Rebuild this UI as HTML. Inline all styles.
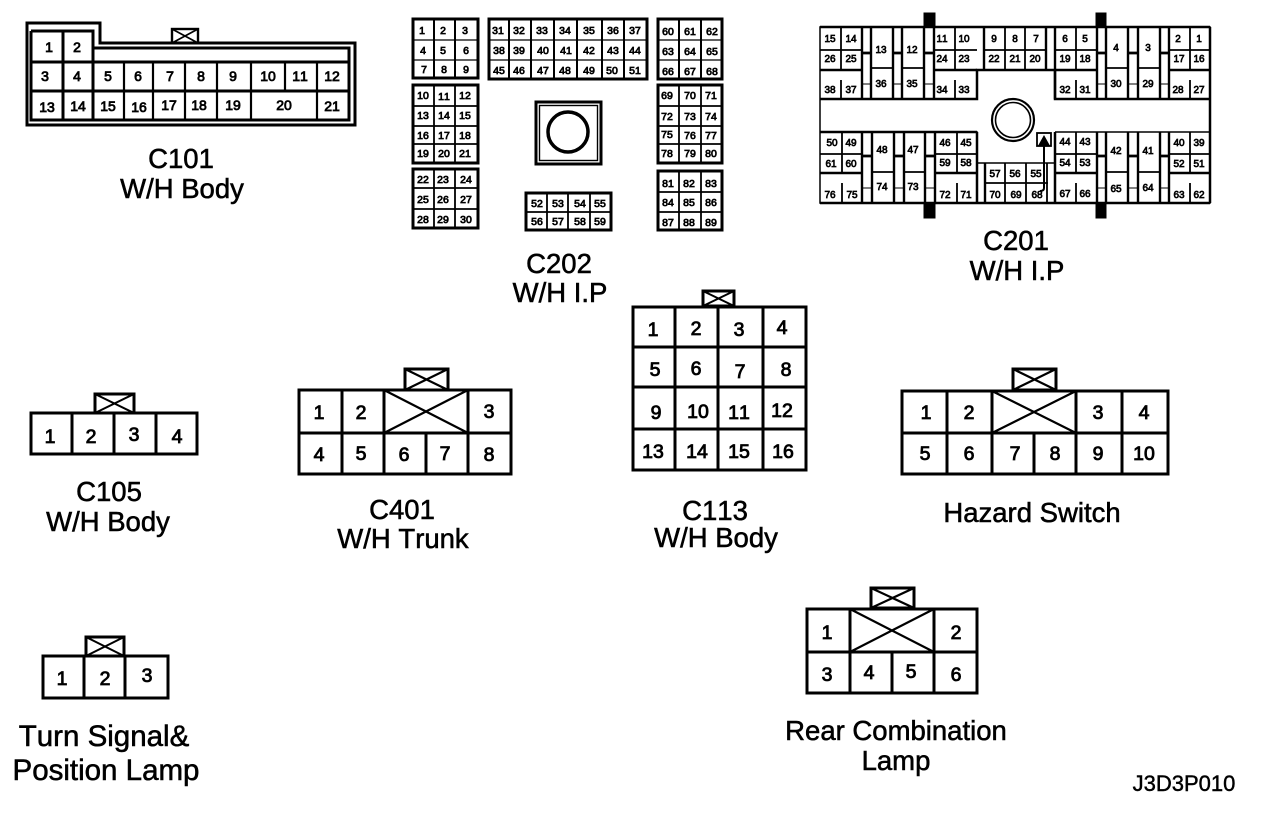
<!DOCTYPE html>
<html><head><meta charset="utf-8"><style>
html,body{margin:0;padding:0;background:#fff}
svg{display:block}
text{font-family:"Liberation Sans",Arial,sans-serif;text-anchor:middle;fill:#000;stroke:#000;font-kerning:none}
.t text{font-size:27.5px;stroke-width:.55}
.p text{font-size:19.5px;stroke-width:.85}
.a text{font-size:14px;stroke-width:.8}
.b text{font-size:10.5px;stroke-width:.75}
.c text{font-size:10px;stroke-width:.7}
path,rect,circle,line{fill:none;stroke:#000}
</style></head><body>
<svg width="1264" height="816" viewBox="0 0 1264 816" xmlns="http://www.w3.org/2000/svg">
<!-- C101 -->
<path stroke-width="3" d="M27 23H100V43H355V125H27Z"/>
<path stroke-width="3" d="M31 31H93V48M93 48H349V120H31V31M31 62H349M31 91H349M63 31V120M93 31V120"/>
<path stroke-width="2.2" d="M124 62V120M153 62V120M185 62V120M217 62V120M251 62V120M285 62V91M317 62V120"/>
<rect x="172" y="29" width="26" height="14" stroke-width="2.4"/><path stroke-width="1.7" d="M172 29L198 43M198 29L172 43"/>
<g class="a">
<text x="49" y="52">1</text><text x="77" y="52">2</text>
<text x="45" y="81">3</text><text x="77" y="81">4</text><text x="108" y="81">5</text><text x="138" y="81">6</text><text x="170" y="81">7</text><text x="201" y="81">8</text><text x="233" y="81">9</text><text x="268" y="81">10</text><text x="300" y="81">11</text><text x="332" y="81">12</text>
<text x="47" y="112">13</text><text x="78" y="111">14</text><text x="108" y="111">15</text><text x="139" y="112">16</text><text x="169" y="110">17</text><text x="199" y="110">18</text><text x="233" y="110">19</text><text x="284" y="110">20</text><text x="332" y="111">21</text>
</g>
<!-- C202 blocks -->
<g stroke-width="3">
<rect x="413" y="19" width="65" height="59"/><rect x="489" y="19" width="158" height="60"/><rect x="658" y="19" width="64" height="60"/>
<rect x="413" y="85" width="65" height="78"/><rect x="413" y="169" width="65" height="59"/>
<rect x="658" y="85" width="64" height="78"/><rect x="658" y="171" width="64" height="59"/><rect x="526" y="193" width="85" height="37"/>
<rect x="536" y="102" width="65" height="62"/>
</g>
<path stroke-width="1.2" d="M413 40H478M413 60H478M489 40H647M489 60H647M658 40H723M658 60H723"/>
<path stroke-width="2" d="M434 19V78M455 19V78M509 19V79M531 19V79M554 19V79M577 19V79M602 19V79M624 19V79M679 19V79M701 19V79"/>
<path stroke-width="1.8" d="M413 106H478M413 126H478M413 144H478M434 85V163M455 85V163M413 188H478M413 209H478M434 169V228M455 169V228M658 106H723M658 126H723M658 144H723M679 85V163M701 85V163M658 192H723M658 212H723M679 171V230M701 171V230M526 212H611M547 193V230M568 193V230M590 193V230"/>
<rect x="539.5" y="105.5" width="58" height="55" stroke-width="1.4"/>
<circle cx="568" cy="132" r="20" stroke-width="3.5"/>
<g class="b">
<text x="422" y="34">1</text><text x="443" y="34">2</text><text x="465" y="34">3</text><text x="423" y="54">4</text><text x="443" y="54">5</text><text x="466" y="54">6</text><text x="424" y="73">7</text><text x="444" y="73">8</text><text x="466" y="73">9</text>
<text x="498" y="34">31</text><text x="519" y="34">32</text><text x="542" y="34">33</text><text x="565" y="34">34</text><text x="589" y="34">35</text><text x="613" y="34">36</text><text x="635" y="34">37</text>
<text x="499" y="54">38</text><text x="519" y="54">39</text><text x="543" y="54">40</text><text x="566" y="54">41</text><text x="589" y="54">42</text><text x="613" y="54">43</text><text x="635" y="54">44</text>
<text x="499" y="74">45</text><text x="519" y="74">46</text><text x="543" y="74">47</text><text x="565" y="74">48</text><text x="589" y="74">49</text><text x="612" y="74">50</text><text x="635" y="74">51</text>
<text x="668" y="35">60</text><text x="690" y="35">61</text><text x="712" y="35">62</text><text x="668" y="55">63</text><text x="690" y="55">64</text><text x="712" y="55">65</text><text x="668" y="75">66</text><text x="690" y="75">67</text><text x="712" y="75">68</text>
<text x="423" y="99">10</text><text x="444" y="100">11</text><text x="465" y="99">12</text><text x="423" y="119">13</text><text x="444" y="119">14</text><text x="465" y="119">15</text><text x="423" y="139">16</text><text x="444" y="139">17</text><text x="465" y="139">18</text><text x="423" y="157">19</text><text x="444" y="157">20</text><text x="465" y="157">21</text>
<text x="423" y="183">22</text><text x="443" y="183">23</text><text x="466" y="183">24</text><text x="423" y="203">25</text><text x="443" y="203">26</text><text x="466" y="203">27</text><text x="423" y="223">28</text><text x="443" y="223">29</text><text x="466" y="223">30</text>
<text x="667" y="99">69</text><text x="690" y="99">70</text><text x="711" y="99">71</text><text x="667" y="120">72</text><text x="690" y="120">73</text><text x="711" y="120">74</text><text x="667" y="138">75</text><text x="690" y="139">76</text><text x="711" y="139">77</text><text x="667" y="157">78</text><text x="690" y="157">79</text><text x="711" y="157">80</text>
<text x="668" y="187">81</text><text x="689" y="187">82</text><text x="711" y="187">83</text><text x="668" y="206">84</text><text x="689" y="206">85</text><text x="711" y="206">86</text><text x="668" y="226">87</text><text x="689" y="226">88</text><text x="711" y="226">89</text>
<text x="537" y="207">52</text><text x="558" y="207">53</text><text x="580" y="207">54</text><text x="600" y="207">55</text><text x="537" y="225">56</text><text x="558" y="225">57</text><text x="580" y="225">58</text><text x="600" y="225">59</text>
</g>
<!-- C201 outline -->
<rect x="924" y="13" width="11" height="14" style="fill:#000" stroke="none"/><rect x="1096" y="13" width="10" height="14" style="fill:#000" stroke="none"/>
<rect x="924" y="203" width="11" height="15" style="fill:#000" stroke="none"/><rect x="1096" y="203" width="10" height="15" style="fill:#000" stroke="none"/>
<path stroke-width="1.5" d="M820 27H1210V203H820ZM820 99H977V70H1055V99H1210M820 132H977V163H1055M1055 132H1210"/>
<path stroke-width="2.5" d="M820 27H1210M820 99H977V70H1055V99H1210M820 132H977M820 203H1210M1055 132V203M977 132V203M1210 27V203"/>
<!-- C201 top cells -->
<path stroke-width="2.4" d="M862 27V99M871 27V99M893 27V99M902 27V99M924 27V99M934 27V99M820 70H862M934 70H977M984 27V70M1046 27V70M1055 27V99M1097 27V99M1106 27V99M1128 27V99M1138 27V99M1160 27V99M1169 27V99M1055 70H1097M1169 70H1210"/>
<path stroke-width="1.8" d="M841 27V70M841 80V99M820 50H862M955 27V70M955 80V99M934 50H977M1005 27V70M1025 27V70M984 50H1046M1076 27V70M1076 80V99M1055 50H1097M1190 27V70M1190 80V99M1169 50H1210M871 68H893M902 68H924M1106 68H1128M1138 68H1160"/>
<path stroke-width="2.8" d="M862 53H871M893 53H902M924 53H934M1097 53H1106M1128 53H1138M1160 53H1169"/>
<path stroke-width="1" d="M862 84H871M893 84H902M924 84H934M1097 84H1106M1128 84H1138M1160 84H1169"/>
<!-- C201 bottom cells -->
<path stroke-width="2.4" d="M862 132V203M872 132V203M894 132V203M904 132V203M925 132V203M935 132V203M820 173H862M935 173H977M985 163V203M1097 132V203M1106 132V203M1128 132V203M1138 132V203M1160 132V203M1169 132V203M1055 173H1097M1169 173H1210"/>
<path stroke-width="1.8" d="M842 132V173M842 183V203M820 154H862M957 132V173M957 183V203M935 154H977M1005 163V203M1026 163V203M1047 163V203M985 183H1048M1076 132V173M1076 183V203M1055 154H1097M1190 132V173M1190 183V203M1169 154H1210M872 172H894M904 172H925M1106 172H1128M1138 172H1160"/>
<path stroke-width="2.8" d="M862 156H872M894 156H904M925 156H935M1097 156H1106M1128 156H1138M1160 156H1169"/>
<path stroke-width="1" d="M862 188H872M894 188H904M925 188H935M1097 188H1106M1128 188H1138M1160 188H1169"/>
<rect x="1037" y="133" width="14" height="13" stroke-width="1.8"/>
<path style="fill:#000" stroke-width="1" d="M1044 136L1049 145H1039Z"/>
<path stroke-width="2" d="M1044 146V188Q1044 191 1040 191"/>
<circle cx="1013" cy="120" r="21" stroke-width="2.2"/><circle cx="1013" cy="120" r="17.5" stroke-width="1.6"/>
<g class="c">
<text x="830" y="42">15</text><text x="851" y="42">14</text><text x="830" y="62">26</text><text x="851" y="62">25</text><text x="830" y="93">38</text><text x="851" y="93">37</text>
<text x="881" y="53">13</text><text x="881" y="87">36</text><text x="912" y="53">12</text><text x="912" y="87">35</text>
<text x="942" y="42">11</text><text x="964" y="42">10</text><text x="942" y="62">24</text><text x="964" y="62">23</text><text x="942" y="93">34</text><text x="964" y="93">33</text>
<text x="994" y="42">9</text><text x="1015" y="42">8</text><text x="1036" y="42">7</text><text x="994" y="62">22</text><text x="1015" y="62">21</text><text x="1035" y="62">20</text>
<text x="1065" y="42">6</text><text x="1085" y="42">5</text><text x="1065" y="62">19</text><text x="1085" y="62">18</text><text x="1065" y="93">32</text><text x="1085" y="93">31</text>
<text x="1116" y="51">4</text><text x="1116" y="87">30</text><text x="1148" y="51">3</text><text x="1148" y="87">29</text>
<text x="1178" y="42">2</text><text x="1199" y="42">1</text><text x="1179" y="62">17</text><text x="1199" y="62">16</text><text x="1178" y="93">28</text><text x="1199" y="93">27</text>
<text x="832" y="146">50</text><text x="851" y="146">49</text><text x="831" y="167">61</text><text x="851" y="167">60</text><text x="830" y="198">76</text><text x="852" y="198">75</text>
<text x="882" y="153">48</text><text x="882" y="190">74</text><text x="913" y="153">47</text><text x="913" y="190">73</text>
<text x="945" y="146">46</text><text x="966" y="146">45</text><text x="945" y="166">59</text><text x="966" y="166">58</text><text x="945" y="198">72</text><text x="966" y="198">71</text>
<text x="995" y="177">57</text><text x="1015" y="177">56</text><text x="1036" y="177">55</text><text x="995" y="198">70</text><text x="1016" y="198">69</text><text x="1037" y="198">68</text>
<text x="1065" y="145">44</text><text x="1085" y="145">43</text><text x="1065" y="166">54</text><text x="1085" y="166">53</text><text x="1065" y="197">67</text><text x="1085" y="197">66</text>
<text x="1116" y="154">42</text><text x="1116" y="192">65</text><text x="1148" y="154">41</text><text x="1148" y="191">64</text>
<text x="1179" y="146">40</text><text x="1199" y="146">39</text><text x="1179" y="167">52</text><text x="1199" y="167">51</text><text x="1179" y="198">63</text><text x="1199" y="198">62</text>
</g>
<!-- C105 -->
<g stroke-width="3"><rect x="31" y="413" width="166" height="41"/><path d="M72 413V454M114 413V454M156 413V454"/><rect x="95" y="394" width="39" height="19"/></g>
<path stroke-width="2" d="M95 394L134 413M134 394L95 413"/>
<!-- C401 -->
<g stroke-width="3"><rect x="299" y="390" width="212" height="84"/><path d="M299 433H511M342 390V474M384 390V474M426 433V474M468 390V474"/><rect x="405" y="369" width="43" height="21"/></g>
<path stroke-width="2.2" d="M384 390L468 433M468 390L384 433M405 369L448 390M448 369L405 390"/>
<!-- C113 -->
<g stroke-width="3"><rect x="633" y="307" width="173" height="163"/><path d="M633 347H806M633 387H806M633 429H806M675 307V470M718 307V470M763 307V470"/><rect x="703" y="291" width="31" height="15"/></g>
<path stroke-width="2" d="M703 291L734 306M734 291L703 306"/>
<!-- Hazard -->
<g stroke-width="3"><rect x="902" y="391" width="266" height="83"/><path d="M902 433H1168M947 391V474M992 391V474M1034 433V474M1076 391V474M1122 391V474"/><rect x="1013" y="369" width="43" height="21"/></g>
<path stroke-width="2.2" d="M992 391L1076 433M1076 391L992 433M1013 369L1056 390M1056 369L1013 390"/>
<!-- Rear -->
<g stroke-width="3"><rect x="807" y="609" width="170" height="84"/><path d="M807 652H977M850 609V693M892 652V693M934 609V693"/><rect x="871" y="588" width="43" height="20"/></g>
<path stroke-width="2.2" d="M850 609L934 652M934 609L850 652M871 588L914 608M914 588L871 608"/>
<!-- Turn -->
<g stroke-width="3"><rect x="43" y="656" width="125" height="42"/><path d="M84 656V698M125 656V698"/><rect x="86" y="637" width="38" height="19"/></g>
<path stroke-width="2" d="M86 637L124 656M124 637L86 656"/>
<g class="p">
<text x="50" y="443">1</text><text x="91" y="443">2</text><text x="134" y="441">3</text><text x="177" y="443">4</text>
<text x="319" y="419">1</text><text x="361" y="419">2</text><text x="489" y="418">3</text><text x="319" y="461">4</text><text x="361" y="460">5</text><text x="404" y="461">6</text><text x="445" y="460">7</text><text x="489" y="461">8</text>
<text x="653" y="336">1</text><text x="696" y="335">2</text><text x="739" y="336">3</text><text x="782" y="334">4</text><text x="655" y="376">5</text><text x="696" y="375">6</text><text x="740" y="378">7</text><text x="786" y="376">8</text>
<text x="656" y="419">9</text><text x="698" y="418">10</text><text x="739" y="419">11</text><text x="782" y="417">12</text><text x="653" y="458">13</text><text x="697" y="458">14</text><text x="739" y="458">15</text><text x="783" y="458">16</text>
<text x="926" y="419">1</text><text x="969" y="419">2</text><text x="1098" y="419">3</text><text x="1144" y="419">4</text><text x="925" y="460">5</text><text x="969" y="460">6</text><text x="1015" y="460">7</text><text x="1055" y="460">8</text><text x="1098" y="460">9</text><text x="1144" y="460">10</text>
<text x="827" y="639">1</text><text x="956" y="639">2</text><text x="827" y="681">3</text><text x="869" y="679">4</text><text x="911" y="678">5</text><text x="956" y="681">6</text>
<text x="62" y="685">1</text><text x="105" y="685">2</text><text x="147" y="682">3</text>
</g>
<g class="t">
<text x="181" y="168">C101</text><text x="182" y="198">W/H Body</text>
<text x="559" y="273">C202</text><text x="560" y="302">W/H I.P</text>
<text x="1016" y="250">C201</text><text x="1017" y="280">W/H I.P</text>
<text x="109" y="501">C105</text><text x="108" y="531">W/H Body</text>
<text x="402" y="519">C401</text><text x="403" y="548">W/H Trunk</text>
<text x="715" y="520">C113</text><text x="716" y="547">W/H Body</text>
<text x="1032" y="522">Hazard Switch</text>
<text x="104" y="746" style="font-size:29.5px">Turn Signal&amp;</text><text x="106" y="780" style="font-size:29.5px">Position Lamp</text>
<text x="896" y="740">Rear Combination</text><text x="896" y="770">Lamp</text>
<text x="1184" y="791" style="font-size:22px;stroke-width:.45">J3D3P010</text>
</g>
</svg>
</body></html>
